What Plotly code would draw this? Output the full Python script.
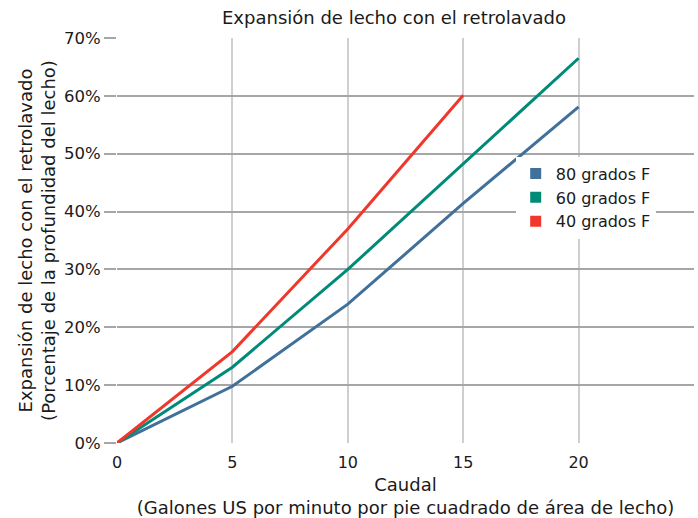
import plotly.graph_objects as go

caudal = [0, 5, 10, 15, 20]
caudal_40 = [0, 5, 10, 15]
exp_80 = [0, 0.098, 0.24, 0.414, 0.581]
exp_60 = [0, 0.131, 0.30, 0.483, 0.665]
exp_40 = [0, 0.158, 0.37, 0.601]
series_names = ["80 grados F", "60 grados F", "40 grados F"]
colors = ["#41709a", "#008a78", "#f0372b"]
x_ticks = [0, 5, 10, 15, 20, 25]
x_ticktext = ["0", "5", "10", "15", "20", ""]
y_ticks = [0, 0.1, 0.2, 0.3, 0.4, 0.5, 0.6, 0.7]

FONT = "DejaVu Sans, Verdana, sans-serif"
TXT = "#1a1a1a"

fig = go.Figure()
xs = [caudal, caudal, caudal_40]
ys = [exp_80, exp_60, exp_40]
for name, c, x, y in zip(series_names, colors, xs, ys):
    fig.add_trace(go.Scatter(x=x, y=y, mode="lines", line=dict(color=c, width=3),
                             showlegend=False, hoverinfo="skip"))
for name, c in zip(series_names, colors):
    fig.add_trace(go.Scatter(x=[None], y=[None], mode="markers", name=name,
                             marker=dict(symbol="square", size=11, color=c)))

fig.update_layout(
    width=698, height=518,
    margin=dict(l=117, r=4, t=38, b=75),
    paper_bgcolor="white", plot_bgcolor="white",
    font=dict(family=FONT, size=16, color=TXT),
    title=dict(text="Expansión de lecho con el retrolavado", x=0.48, xref="paper",
               xanchor="center", y=1 - 18 / 518, yref="container", yanchor="middle",
               font=dict(size=18, color=TXT), automargin=False),
    legend=dict(x=0.691, y=0.707, xanchor="left", yanchor="top", bgcolor="white",
                font=dict(size=16), itemwidth=30, tracegroupgap=0),
    xaxis=dict(range=[0, 25], tickvals=x_ticks, ticktext=x_ticktext, showgrid=True,
               gridcolor="#cfcfcf", gridwidth=1.5, zeroline=False, showline=False,
               ticks="", tickfont=dict(size=16), automargin=False, ticklabelstandoff=8,
               title=dict(text="Caudal<br>(Galones US por minuto por pie cuadrado de área de lecho)",
                          font=dict(size=18), standoff=12)),
    yaxis=dict(range=[0, 0.7], tickvals=y_ticks, tickformat=".0%", showgrid=True,
               gridcolor="#a6a6a6", gridwidth=1.5, zeroline=False, showline=False,
               ticks="outside", ticklen=12, tickcolor="#a6a6a6", tickwidth=1.5,
               tickfont=dict(size=16.5), automargin=False,
               title=dict(text="Expansión de lecho con el retrolavado<br>(Porcentaje de la profundidad del lecho)",
                          font=dict(size=18), standoff=3)),
)
fig.write_html("out.html", config={"displayModeBar": False},
               post_script="document.body.style.margin='0';")
